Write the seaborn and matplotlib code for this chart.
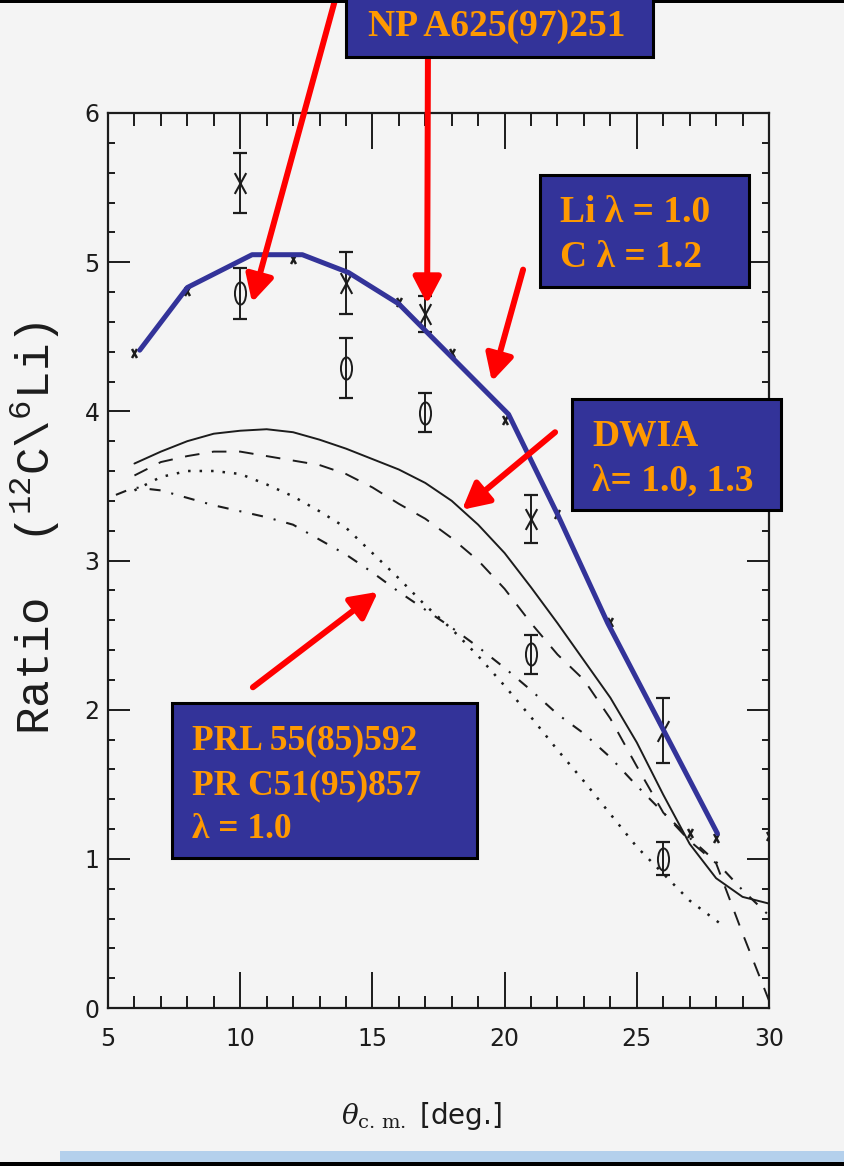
import numpy as np
import matplotlib
matplotlib.use("Agg")
import matplotlib.pyplot as plt
import seaborn as sns
import pandas as pd
from matplotlib.path import Path
from matplotlib.patches import Rectangle
from matplotlib.ticker import MultipleLocator

# ---------------- data ----------------
theta_blue = [6.2, 8.0, 10.45, 12.35, 14.1, 16.0, 20.15, 22.0, 23.9, 28.05]
ratio_blue = [4.41, 4.83, 5.05, 5.05, 4.93, 4.72, 3.98, 3.31, 2.58, 1.17]

theta_small = [6, 8, 12, 16, 18, 20, 22, 24, 27, 28, 30]
ratio_small = [4.39, 4.81, 5.02, 4.73, 4.39, 3.94, 3.31, 2.59, 1.17, 1.14, 1.15]

theta_err = [10, 14, 17, 21, 26]
ratio_cross = [5.53, 4.86, 4.65, 3.28, 1.86]
err_cross = [0.20, 0.21, 0.12, 0.16, 0.22]
ratio_circle = [4.79, 4.29, 3.99, 2.37, 1.00]
err_circle = [0.17, 0.20, 0.13, 0.13, 0.11]

theta_grid = [6, 7, 8, 9, 10, 11, 12, 13, 14, 15, 16, 17, 18, 19, 20,
              21, 22, 23, 24, 25, 26, 27, 28, 29, 30]
ratio_solid = [3.65, 3.73, 3.80, 3.85, 3.87, 3.88, 3.86, 3.81, 3.75, 3.68,
               3.61, 3.52, 3.40, 3.24, 3.05, 2.82, 2.58, 2.33, 2.08, 1.78,
               1.43, 1.10, 0.87, 0.745, 0.70]
ratio_dashed = [3.57, 3.66, 3.70, 3.73, 3.73, 3.70, 3.67, 3.64, 3.58, 3.49,
                3.38, 3.28, 3.15, 3.00, 2.81, 2.58, 2.37, 2.20, 1.94, 1.62,
                1.31, 1.12, 0.97, 0.50, 0.05]
theta_dot = [6, 7, 8, 9, 10, 11, 12, 13, 14, 15, 16, 17, 18, 19, 20,
             21, 22, 23, 24, 25, 26, 27, 28.2]
ratio_dotted = [3.47, 3.56, 3.60, 3.60, 3.58, 3.51, 3.43, 3.33, 3.22, 3.05,
                2.88, 2.70, 2.54, 2.36, 2.16, 1.95, 1.73, 1.52, 1.30, 1.08,
                0.90, 0.72, 0.56]
theta_dd = [5.3, 6, 7, 8, 9, 10, 11, 12, 13, 14, 15, 16, 17, 18, 19, 20,
            21, 22, 23, 24, 25, 26, 27, 28, 29, 30]
ratio_dashdot = [3.44, 3.49, 3.47, 3.42, 3.37, 3.33, 3.29, 3.24, 3.14, 3.04,
                 2.92, 2.79, 2.67, 2.55, 2.42, 2.28, 2.13, 1.97, 1.84, 1.68,
                 1.49, 1.31, 1.14, 0.98, 0.79, 0.62]

x_ticks = [5, 10, 15, 20, 25, 30]
y_ticks = [0, 1, 2, 3, 4, 5, 6]

box_texts = {
    "np": ["NP A625(97)251"],
    "li": ["Li \u03bb = 1.0", "C \u03bb = 1.2"],
    "dwia": ["DWIA", "\u03bb= 1.0, 1.3"],
    "prl": ["PRL 55(85)592", "PR C51(95)857", "\u03bb = 1.0"],
}

# ---------------- style ----------------
sns.set_style("ticks")
BG = "#f4f4f4"
INK = "#1c1c1c"
NAVY = "#333399"
ORANGE = "#ff9900"
RED = "#ff0000"
plt.rcParams["font.family"] = ["DejaVu Sans"]
plt.rcParams["mathtext.fontset"] = "custom"
plt.rcParams["mathtext.rm"] = "Liberation Mono"
plt.rcParams["mathtext.it"] = "Liberation Mono:italic"
plt.rcParams["mathtext.bf"] = "Liberation Mono:bold"

W, H = 845, 1166
fig = plt.figure(figsize=(W / 100, H / 100), dpi=100, facecolor=BG)
ax = fig.add_axes([108 / W, (H - 1008) / H, 661 / W, 895 / H])
ax.set_facecolor(BG)


def fx(px):
    return px / W


def fy(py):
    return 1 - py / H


# theory curves
curves = [
    (theta_grid, ratio_solid, "-", 1.4),
    (theta_grid, ratio_dashed, (0, (7.5, 6.5)), 1.4),
    (theta_dot, ratio_dotted, (0, (1, 3.6)), 1.8),
    (theta_dd, ratio_dashdot, (0, (5.3, 5.3, 1, 5.3)), 1.5),
]
for xs, ys, ls, lw in curves:
    sns.lineplot(x=xs, y=ys, ax=ax, color=INK, linestyle=ls, linewidth=lw,
                 estimator=None, sort=False, zorder=3)

# markers
xpath = Path([(-0.55, -1), (0.55, 1), (-0.55, 1), (0.55, -1)],
             [Path.MOVETO, Path.LINETO, Path.MOVETO, Path.LINETO])
circ = Path.unit_circle()
ellipse = Path(circ.vertices * np.array([0.5, 1.0]), circ.codes)

ax.plot(theta_small, ratio_small, linestyle="none", marker=xpath,
        markersize=6.5, markeredgewidth=1.8, color=INK, zorder=4)
ax.errorbar(theta_err, ratio_cross, yerr=err_cross, fmt="none", ecolor=INK,
            elinewidth=1.4, capsize=5, capthick=1.6, zorder=4)
ax.plot(theta_err, ratio_cross, linestyle="none", marker=xpath,
        markersize=15, markeredgewidth=1.5, color=INK, zorder=4)
ax.errorbar(theta_err, ratio_circle, yerr=err_circle, fmt="none", ecolor=INK,
            elinewidth=1.4, capsize=5, capthick=1.6, zorder=4)
ax.plot(theta_err, ratio_circle, linestyle="none", marker=ellipse,
        markersize=16, markeredgewidth=1.4, markerfacecolor="none",
        markeredgecolor=INK, zorder=4)

# blue fit line
sns.lineplot(x=theta_blue, y=ratio_blue, ax=ax, color=NAVY, linewidth=3.6,
             estimator=None, sort=False, zorder=6)

# axes
ax.set_xlim(5, 30)
ax.set_ylim(0, 6)
ax.xaxis.set_major_locator(MultipleLocator(5))
ax.xaxis.set_minor_locator(MultipleLocator(1))
ax.yaxis.set_major_locator(MultipleLocator(1))
ax.yaxis.set_minor_locator(MultipleLocator(0.2))
ax.set_xticks(x_ticks)
ax.set_yticks(y_ticks)
ax.set_xticklabels([str(t) for t in x_ticks])
ax.set_yticklabels([str(t) for t in y_ticks])
for s in ax.spines.values():
    s.set_visible(True)
    s.set_linewidth(1.6)
    s.set_color(INK)
ax.tick_params(which="both", direction="in", top=True, right=True,
               color=INK, width=1.4)
ax.tick_params(axis="x", which="major", length=26, pad=14)
ax.tick_params(axis="x", which="minor", length=9)
ax.tick_params(axis="y", which="major", length=16, pad=6)
ax.tick_params(axis="y", which="minor", length=5)
tick_font = ["Liberation Sans Narrow", "DejaVu Sans"]
for lab in ax.get_xticklabels() + ax.get_yticklabels():
    lab.set_family(tick_font)
    lab.set_fontsize(17)
    lab.set_color(INK)

xl = ax.set_xlabel(r"$\theta_{\rm c.\,m.}$ [deg.]", fontsize=20, color=INK,
                   family=tick_font)
xl.set_math_fontfamily("dejavuserif")
ax.xaxis.set_label_coords((421 - 108) / 661, -0.103)
ax.set_ylabel(r"Ratio  ($^{12}$C$\backslash^{6}$Li)", fontsize=33, color=INK,
              family=["Liberation Mono", "DejaVu Sans Mono"])
ax.yaxis.set_label_coords(-0.07, (1008 - 528) / 895)

# red arrows (start, tip) in data units
arrows = [
    ((13.59, 6.76), (10.45, 4.73)),
    ((17.10, 6.37), (17.07, 4.72)),
    ((20.70, 4.95), (19.52, 4.20)),
    ((21.91, 3.86), (18.39, 3.34)),
    ((10.48, 2.15), (15.21, 2.79)),
]
for start, tip in arrows:
    an = ax.annotate("", xy=tip, xytext=start, annotation_clip=False,
                     arrowprops=dict(arrowstyle="-|>,head_length=0.8,head_width=0.42",
                                     color=RED, lw=4.3, mutation_scale=20,
                                     shrinkA=0, shrinkB=0),
                     zorder=8)
    an.arrow_patch.set_clip_on(False)

# annotation boxes (pixel layout)
boxes = [
    ("np", (346, -6, 653, 57), [(497, 36)], "center"),
    ("li", (540, 175, 749, 287), [(560, 222), (560, 267)], "left"),
    ("dwia", (572, 399, 781, 510), [(592, 445), (592, 490)], "left"),
    ("prl", (172, 703, 477, 858), [(192, 749), (192, 794), (192, 838)], "left"),
]
for key, (x0, y0, x1, y1), pos, ha in boxes:
    rect = Rectangle((fx(x0), fy(y1)), fx(x1) - fx(x0), fy(y0) - fy(y1),
                     transform=fig.transFigure, facecolor=NAVY,
                     edgecolor="black", linewidth=2.2, zorder=20)
    fig.patches.append(rect)
    size = 25.5 if key == "prl" else 27
    for line, (tx, ty) in zip(box_texts[key], pos):
        fig.text(fx(tx), fy(ty), line, ha=ha, va="baseline", fontsize=size,
                 fontweight="bold", color=ORANGE,
                 family=["Liberation Serif", "DejaVu Serif"], zorder=21)

# slide frame decorations
fig.patches.append(Rectangle((0, fy(3)), 1, 3 / H, transform=fig.transFigure,
                             facecolor="black", edgecolor="none", zorder=0))
fig.patches.append(Rectangle((fx(60), fy(1162)), 1, 11 / H,
                             transform=fig.transFigure, facecolor="#b4d0ec",
                             edgecolor="none", zorder=0))
fig.patches.append(Rectangle((0, 0), 1, 4 / H, transform=fig.transFigure,
                             facecolor="black", edgecolor="none", zorder=0))

fig.savefig("out.png", dpi=100, facecolor=BG)
